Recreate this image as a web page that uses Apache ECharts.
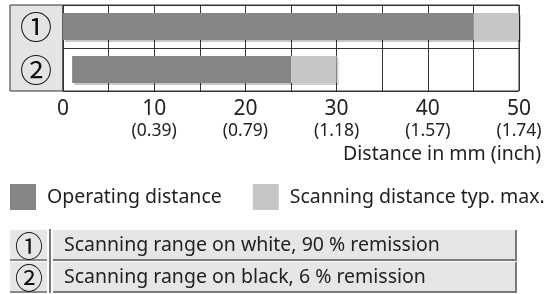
<!DOCTYPE html>
<html><head><meta charset="utf-8">
<script src="https://cdn.jsdelivr.net/npm/echarts@6/dist/echarts.min.js"></script>
<style>html,body{margin:0;padding:0;background:#fff}#c{width:549px;height:294px}</style>
</head><body><div id="c"></div>
<script>
const categories = ['①', '②'];
const barStart = [0, 1];
const operatingDistance = [45, 25];
const scanningDistance = [50, 30];
const tickMm = [0, 10, 20, 30, 40, 50];
const tickInch = ['', '0.39', '0.79', '1.18', '1.57', '1.74'];
const legendNames = ['Operating distance', 'Scanning distance typ. max.'];
const tableRows = ['Scanning range on white, 90 % remission', 'Scanning range on black, 6 % remission'];

const FONT = 'Noto Sans';
const CIRC = 'Noto Sans CJK JP';
const chart = echarts.init(document.getElementById('c'), null, {renderer: 'canvas'});

const base = barStart;
const darkPart = operatingDistance.map((v, i) => v - barStart[i]);
const lightPart = scanningDistance.map((v, i) => v - operatingDistance[i]);

const gL = 63, gT = 5, gR = 519, gB = 91;

function tableGraphics() {
  const g = [];
  const tops = [230, 262];
  tableRows.forEach((txt, i) => {
    const y = tops[i];
    const h = 30;
    g.push({type: 'rect', shape: {x: 10, y: y, width: 37, height: h}, style: {fill: '#e6e6e6', stroke: null}, z: 1});
    g.push({type: 'polyline', shape: {points: [[10, y + h], [47, y + h]]}, style: {stroke: '#8a8a8a', lineWidth: 2, fill: null}, z: 2});
    g.push({type: 'text', x: 29, y: y + h / 2 + 1, style: {text: categories[i], font: '28px "' + CIRC + '"', fill: '#111', align: 'center', verticalAlign: 'middle'}, z: 3});
    g.push({type: 'rect', shape: {x: 53, y: y, width: 464, height: h}, style: {fill: '#e6e6e6', stroke: null}, z: 1});
    g.push({type: 'polyline', shape: {points: [[53, y + h], [516, y + h], [516, y]]}, style: {stroke: '#7a7a7a', lineWidth: 2, fill: null}, z: 2});
    g.push({type: 'text', x: 64, y: y + h / 2, style: {text: txt, font: '19.5px "' + FONT + '"', fill: '#222', align: 'left', verticalAlign: 'middle'}, z: 3});
  });
  g.push({type: 'line', shape: {x1: 50, y1: 229, x2: 50, y2: 293}, style: {stroke: '#777', lineWidth: 2}, z: 2});
  return g;
}

const option = {
  animation: false,
  textStyle: {fontFamily: FONT},
  grid: {left: gL, top: gT, width: gR - gL, height: gB - gT, show: true, borderColor: '#333', borderWidth: 1, containLabel: false},
  legend: {
    data: legendNames, left: 10, top: 184, width: 539, padding: 0, itemWidth: 26, itemHeight: 26, itemGap: 31, icon: 'rect',
    textStyle: {fontSize: 19.5, color: '#222', fontFamily: FONT, padding: [0, 0, 0, 6]},
    selectedMode: false
  },
  xAxis: {
    type: 'value', min: 0, max: 50, interval: 5,
    axisLine: {show: false}, axisTick: {show: false},
    splitLine: {show: true, lineStyle: {color: '#333', width: 1}},
    axisLabel: {
      margin: 6, color: '#222', showMaxLabel: true,
      formatter: function (v) {
        const i = tickMm.indexOf(v);
        if (i < 0) return '';
        return '{a|' + v + '}' + (tickInch[i] ? '\n{b|(' + tickInch[i] + ')}' : '');
      },
      rich: {
        a: {fontSize: 21, lineHeight: 24, color: '#222', fontFamily: FONT},
        b: {fontSize: 17.5, lineHeight: 21, color: '#222', fontFamily: FONT}
      }
    }
  },
  yAxis: {
    type: 'category', data: categories, inverse: true,
    axisLine: {show: false}, axisTick: {show: false},
    splitLine: {show: true, lineStyle: {color: '#333', width: 1}},
    axisLabel: {margin: 27, align: 'center', fontSize: 32, color: '#111', fontFamily: CIRC}
  },
  series: [
    {type: 'bar', name: 'base', stack: 's', data: base, barWidth: 27, itemStyle: {color: 'rgba(0,0,0,0)'}, silent: true},
    {type: 'bar', name: legendNames[0], stack: 's', data: darkPart, barWidth: 27,
      itemStyle: {color: '#858585', shadowColor: 'rgba(0,0,0,0.22)', shadowOffsetX: 2, shadowOffsetY: 2, shadowBlur: 0}},
    {type: 'bar', name: legendNames[1], stack: 's', data: lightPart, barWidth: 27,
      itemStyle: {color: '#c6c6c6', shadowColor: 'rgba(0,0,0,0.18)', shadowOffsetX: 2, shadowOffsetY: 2, shadowBlur: 0}}
  ],
  graphic: [
    {type: 'rect', shape: {x: 10, y: gT, width: gL - 10, height: gB - gT}, style: {fill: '#e4e4e4', stroke: '#333', lineWidth: 1}, z: -1, silent: true},
    {type: 'text', x: 541, y: 154, style: {text: 'Distance in mm (inch)', font: '19.5px "' + FONT + '"', fill: '#222', align: 'right', verticalAlign: 'middle'}}
  ].concat(tableGraphics())
};
chart.setOption(option);
</script></body></html>
